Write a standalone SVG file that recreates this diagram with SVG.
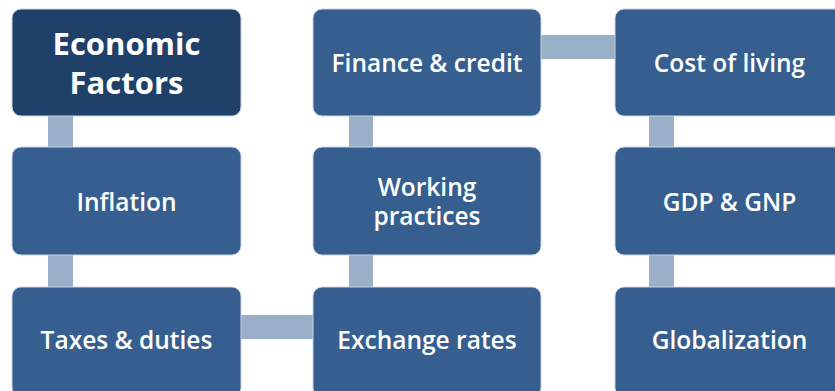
<svg xmlns="http://www.w3.org/2000/svg" width="835" height="391" viewBox="0 0 835 391">
<style>
.box{fill:#365f8f;stroke:#c9d4e2;stroke-width:1}
.dark{fill:#1f4068}
.con{fill:#9bb0c9}
.t{font-family:"Open Sans",Lato,sans-serif;font-weight:600;font-size:24.5px;fill:#fff;text-anchor:middle}
.big{font-size:31px;font-weight:700}
</style>
<rect width="835" height="391" fill="#fff"/>
<g id="connectors">
<rect class="con" x="48" y="110" width="25" height="42"/>
<rect class="con" x="48" y="250" width="25" height="42"/>
<rect class="con" x="236" y="315" width="82" height="24"/>
<rect class="con" x="349" y="250" width="24" height="42"/>
<rect class="con" x="349" y="110" width="24" height="42"/>
<rect class="con" x="536" y="35" width="84" height="24"/>
<rect class="con" x="649" y="110" width="25" height="42"/>
<rect class="con" x="649" y="250" width="25" height="42"/>
</g>
<g id="economic-factors"><rect class="box dark" x="12" y="9" width="229" height="107" rx="9"/><text class="t big" x="126.5" y="55">Economic</text><text class="t big" x="126.5" y="94">Factors</text></g>
<g id="inflation"><rect class="box" x="12" y="147" width="229" height="108" rx="9"/><text class="t" x="126.5" y="211">Inflation</text></g>
<g id="taxes"><rect class="box" x="12" y="287" width="229" height="110" rx="9"/><text class="t" x="126.5" y="349">Taxes &amp; duties</text></g>
<g id="finance"><rect class="box" x="313" y="9" width="228" height="107" rx="9"/><text class="t" x="427" y="72">Finance &amp; credit</text></g>
<g id="working"><rect class="box" x="313" y="147" width="228" height="108" rx="9"/><text class="t" x="427" y="196">Working</text><text class="t" x="427" y="225">practices</text></g>
<g id="exchange"><rect class="box" x="313" y="287" width="228" height="110" rx="9"/><text class="t" x="427" y="349">Exchange rates</text></g>
<g id="cost"><rect class="box" x="615" y="9" width="229" height="107" rx="9"/><text class="t" x="729.5" y="72">Cost of living</text></g>
<g id="gdp"><rect class="box" x="615" y="147" width="229" height="108" rx="9"/><text class="t" x="729.5" y="211">GDP &amp; GNP</text></g>
<g id="globalization"><rect class="box" x="615" y="287" width="229" height="110" rx="9"/><text class="t" x="729.5" y="349">Globalization</text></g>
</svg>
